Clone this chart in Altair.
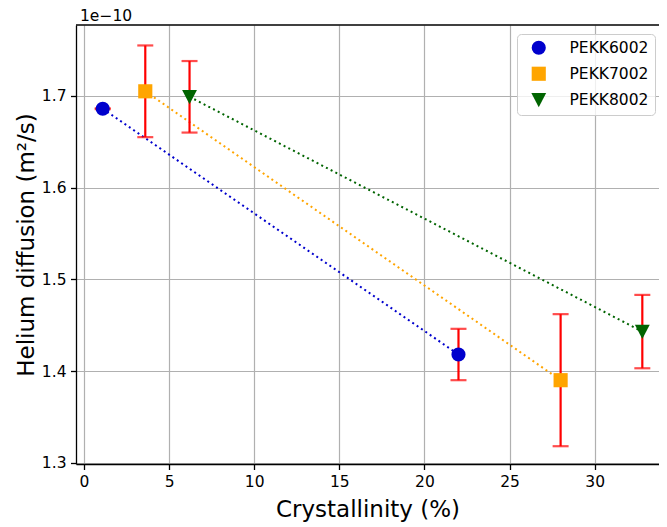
import altair as alt
import pandas as pd

# ---- data (diffusion in units of 1e-10 m²/s) ----
samples = ["PEKK6002", "PEKK7002", "PEKK8002"]
colors = ["#0000CD", "#FFA500", "#006400"]
shapes = ["circle", "square", "M-1.05,-0.95L1.05,-0.95L0,1.05Z"]

pekk6002_cryst = [1.1, 22.0]
pekk6002_diff = [1.686, 1.418]
pekk6002_err = [0.0005, 0.028]

pekk7002_cryst = [3.6, 28.0]
pekk7002_diff = [1.705, 1.390]
pekk7002_err = [0.050, 0.072]

pekk8002_cryst = [6.2, 32.8]
pekk8002_diff = [1.699, 1.443]
pekk8002_err = [0.039, 0.040]

x_ticks = [0, 5, 10, 15, 20, 25, 30]
y_ticks = [1.3, 1.4, 1.5, 1.6, 1.7]

rows = []
for name, xs, ys, es in [
    ("PEKK6002", pekk6002_cryst, pekk6002_diff, pekk6002_err),
    ("PEKK7002", pekk7002_cryst, pekk7002_diff, pekk7002_err),
    ("PEKK8002", pekk8002_cryst, pekk8002_diff, pekk8002_err),
]:
    for x, y, e in zip(xs, ys, es):
        rows.append({"sample": name, "series": name, "cryst": x, "diff": y, "err": e})
df = pd.DataFrame(rows)

W, H = 583, 439

x_enc = alt.X(
    "cryst:Q",
    scale=alt.Scale(domain=[-0.47, 33.78], nice=False, zero=False),
    axis=alt.Axis(values=x_ticks, title="Crystallinity (%)", format="d",
                  labelFlush=False, titleY=52, titleBaseline="alphabetic"),
)
y_enc = alt.Y(
    "diff:Q",
    scale=alt.Scale(domain=[1.2986, 1.7773], nice=False, zero=False),
    axis=alt.Axis(values=y_ticks, title="Helium diffusion (m²/s)", format=".1f",
                  titleX=-43, titleBaseline="alphabetic"),
)

base = alt.Chart(df)

lines = base.mark_line(strokeDash=[2, 3.3], strokeWidth=2).encode(
    x=x_enc, y=y_enc,
    stroke=alt.Stroke("series:N", scale=alt.Scale(domain=samples, range=colors),
                      legend=None),
)

errbars = base.mark_errorbar(
    color="#FF0000",
    ticks={"size": 16, "thickness": 2.2, "color": "#FF0000"},
    rule={"strokeWidth": 2.2},
).encode(
    x=x_enc, y=y_enc, yError="err:Q"
)

leg = alt.Legend(title=None, orient="none", legendX=441, legendY=9)

points = base.mark_point(filled=True, size=200, opacity=1).encode(
    x=x_enc, y=y_enc,
    color=alt.Color("sample:N", scale=alt.Scale(domain=samples, range=colors),
                    legend=leg),
    shape=alt.Shape("sample:N", scale=alt.Scale(domain=samples, range=shapes),
                    legend=leg),
)

top_spine = alt.Chart(pd.DataFrame({"a": [0]})).mark_rule(
    color="black", strokeWidth=1.3
).encode(x=alt.value(0), x2=alt.value(W), y=alt.value(0))

offset_text = alt.Chart(pd.DataFrame({"t": ["1e\u221210"]})).mark_text(
    align="left", baseline="alphabetic", fontSize=15.5, color="black",
    font="DejaVu Sans"
).encode(x=alt.value(4), y=alt.value(-4), text="t:N")

chart = alt.layer(lines, errbars, points, top_spine, offset_text).resolve_scale(
    stroke="independent"
).properties(
    width=W, height=H,
    autosize=alt.AutoSizeParams(type="none"),
    padding={"left": 68, "top": 17, "right": 0, "bottom": 62},
).configure(
    font="DejaVu Sans",
).configure_view(
    stroke=None
).configure_axis(
    domainColor="black", domainWidth=1.3,
    tickColor="black", tickWidth=1.3, tickSize=5.5,
    labelPadding=4.5, labelFontSize=15.5, labelColor="black",
    titleFontSize=23, titleFontWeight="normal", titleColor="black",
    gridColor="#b0b0b0", gridWidth=1.2,
).configure_legend(
    fillColor="rgba(255,255,255,0.8)", strokeColor="#cccccc",
    cornerRadius=4, padding=6, symbolOffset=8, symbolSize=200,
    labelFontSize=15.5, labelColor="black", labelOffset=23,
    rowPadding=9, symbolStrokeWidth=0,
)

chart.save("out.html", embed_options={"renderer": "svg", "actions": False})
